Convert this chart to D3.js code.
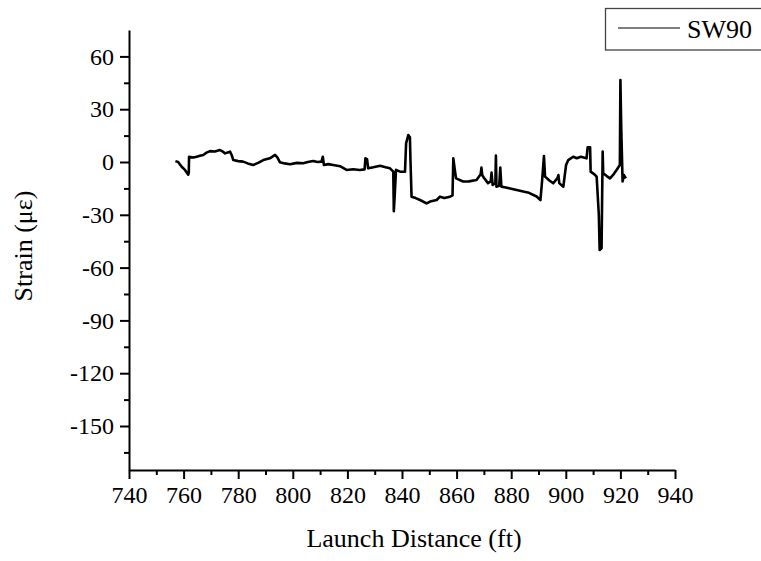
<!DOCTYPE html>
<html>
<head>
<meta charset="utf-8">
<script src="https://cdn.jsdelivr.net/npm/d3@7"></script>
<style>
  body { margin: 0; background: #fff; }
  svg text { font-family: "Liberation Serif", "Times New Roman", Tinos, "DejaVu Serif", serif !important; fill: #000; }
</style>
</head>
<body>
<svg id="chart" width="761" height="561"></svg>
<script>
// launch distance (ft) and strain readings for gauge SW90
var dist = [757.0, 758.0, 759.3, 760.5, 761.7, 761.9, 762.0, 763.5, 764.8, 766.0,
  767.2, 768.4, 769.7, 771.5, 773.3, 774.3, 775.2, 776.4, 777.0, 777.6,
  778.2, 780.0, 781.8, 783.5, 785.5, 787.3, 789.2, 791.6, 793.5, 794.4,
  795.3, 797.0, 799.0, 801.5, 803.8, 805.5, 807.5, 809.0, 810.5, 811.0,
  811.2, 811.4, 813.0, 814.8, 817.3, 819.7, 822.1, 824.5, 826.3, 826.6,
  827.2, 827.6, 829.5, 832.0, 834.0, 835.6, 836.8, 837.0, 837.3, 837.8,
  839.3, 841.1, 841.5, 842.3, 842.9, 843.1, 843.5, 845.0, 846.6, 849.0,
  850.3, 852.7, 853.9, 855.5, 857.6, 858.5, 858.8, 859.4, 859.8, 862.4,
  864.5, 867.3, 868.8, 869.1, 869.4, 870.0, 871.5, 872.5, 872.8, 873.2,
  874.2, 874.4, 874.6, 875.6, 876.0, 876.4, 878.0, 879.6, 882.0, 884.4,
  886.5, 889.3, 890.7, 891.3, 892.0, 892.4, 894.0, 895.4, 897.0, 897.3,
  897.6, 899.1, 900.1, 900.9, 902.7, 904.0, 905.5, 907.6, 908.0, 908.9,
  909.1, 910.5, 911.3, 912.1, 912.4, 913.1, 913.5, 913.7, 915.0, 916.2,
  917.5, 918.6, 919.8, 920.0, 920.3, 920.8, 921.3, 922.0];
var strain = [0.5, 0, -2.7, -4.5, -7.2, -6, 3, 2.5, 3, 3.5,
  4, 5.3, 6.2, 6, 6.8, 6, 4.9, 5.5, 5.9, 4,
  1.1, 0.5, 0.2, -0.8, -1.7, -0.5, 1.1, 2.1, 4, 2.5,
  -0.2, -0.8, -1.3, -0.5, -0.7, 0, 0.6, 0, 0.2, 3,
  0.5, -1.7, -1.2, -1.7, -2.4, -4.5, -4.1, -4.5, -4.2, 2.1,
  1.6, -3.6, -3, -2.1, -3, -3.6, -5.5, -28, -20, -4.5,
  -5.5, -5.5, 10.6, 15.3, 14, 1.1, -19.7, -20.5, -21.6, -23.5,
  -22.5, -21.6, -19.7, -20.5, -19.7, -19, 2.1, -5, -9.3, -11.1,
  -11, -10.2, -7, -3.2, -7.5, -8.9, -12, -11, -6, -13,
  -12, 3.6, -14, -13.5, -3.2, -14, -14.5, -15, -15.9, -16.8,
  -17.5, -19.6, -21.6, -11, 3.4, -8.3, -10.5, -12.1, -9, -7.4,
  -12, -14, -1.7, 1.1, 3, 2.1, 3, 2.1, 8.3, 8.3,
  -5.5, -7, -8.3, -30, -50, -49, 5.9, -6.4, -8, -9.3,
  -7, -4.5, -1.7, 46.6, 20, -11.1, -7.4, -9.3];

var xTicks = [740, 760, 780, 800, 820, 840, 860, 880, 900, 920, 940];
var yTicks = [-150, -120, -90, -60, -30, 0, 30, 60];
var seriesName = "SW90";

var margin = {top: 30, left: 129};
var w = 546, h = 440;

var svg = d3.select("#chart");
var g = svg.append("g").attr("transform", "translate(" + margin.left + "," + margin.top + ")");

var x = d3.scaleLinear().domain([740, 940]).range([0, w]);
var y = d3.scaleLinear().domain([-175, 75]).range([h, 0]);

// minor ticks sit halfway between the labelled ones
var xMinor = d3.range(750, 940, 20);
var yMinor = d3.range(-165, 75, 30);

g.append("g").attr("class", "minor")
  .attr("transform", "translate(0," + h + ")")
  .call(d3.axisBottom(x).tickValues(xMinor).tickSize(5).tickFormat(""));
g.append("g").attr("class", "minor")
  .call(d3.axisLeft(y).tickValues(yMinor).tickSize(5).tickFormat(""));

// plain hyphen for negatives, like the original
var fmt = function(d){ return String(d); };

g.append("g")
  .attr("transform", "translate(0," + h + ")")
  .call(d3.axisBottom(x).tickValues(xTicks).tickSize(9).tickSizeOuter(0).tickPadding(7).tickFormat(fmt));
g.append("g")
  .call(d3.axisLeft(y).tickValues(yTicks).tickSize(9).tickSizeOuter(0).tickPadding(6).tickFormat(fmt));

g.selectAll(".minor .domain").remove();
g.selectAll("g").attr("font-family", null);
g.selectAll(".domain, .tick line").attr("stroke", "#000").attr("stroke-width", 2);
g.selectAll(".tick text").style("font-size", "24px");

var line = d3.line()
  .x(function(d, i){ return x(dist[i]); })
  .y(function(d, i){ return y(strain[i]); });

g.append("path")
  .datum(strain)
  .attr("d", line)
  .attr("fill", "none")
  .attr("stroke", "#000")
  .attr("stroke-width", 2.6)
  .attr("stroke-linejoin", "round");

// axis titles
svg.append("text")
  .attr("x", 414).attr("y", 547)
  .attr("text-anchor", "middle")
  .style("font-size", "26px")
  .text("Launch Distance (ft)");
svg.append("text")
  .attr("transform", "translate(32,246) rotate(-90)")
  .attr("text-anchor", "middle")
  .style("font-size", "26px")
  .text("Strain (με)");

// legend box, runs past the right edge
var leg = svg.append("g");
leg.append("rect")
  .attr("x", 605.5).attr("y", 8.5).attr("width", 170).attr("height", 41.5)
  .attr("fill", "#fff").attr("stroke", "#444").attr("stroke-width", 1.3);
leg.append("line")
  .attr("x1", 618).attr("x2", 680).attr("y1", 28).attr("y2", 28)
  .attr("stroke", "#000").attr("stroke-width", 1.2);
leg.append("text")
  .attr("x", 687).attr("y", 38)
  .style("font-size", "26px")
  .text(seriesName);
</script>
</body>
</html>
